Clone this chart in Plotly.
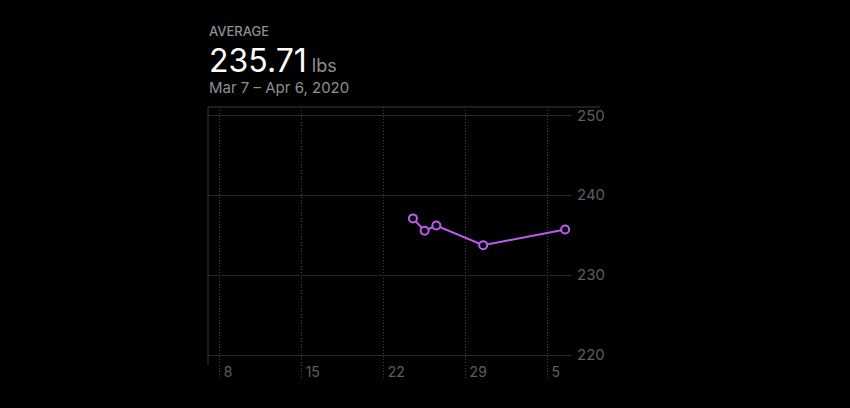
import plotly.graph_objects as go

# weight entries (lbs)
dates = ["2020-03-24 12:00", "2020-03-25 12:00", "2020-03-26 12:00",
         "2020-03-30 12:00", "2020-04-06 12:00"]
weights = [237.1, 235.55, 236.2, 233.75, 235.7]

tick_dates = ["2020-03-08", "2020-03-15", "2020-03-22", "2020-03-29", "2020-04-05"]
tick_text = ["8", "15", "22", "29", "5"]
y_ticks = [220, 230, 240, 250]

purple = "#bf5af2"
grey = "#8e8e93"

fig = go.Figure()
fig.add_trace(go.Scatter(
    x=dates, y=weights, mode="lines+markers",
    line=dict(color=purple, width=2),
    marker=dict(symbol="circle", size=8, color="black",
                line=dict(color=purple, width=2)),
    hoverinfo="skip",
))

fig.update_layout(
    width=850, height=408,
    margin=dict(l=208, r=279, t=107, b=28),
    paper_bgcolor="black", plot_bgcolor="black",
    showlegend=False,
    font=dict(family="Inter, Roboto, sans-serif", color=grey),
    xaxis=dict(
        type="date", range=["2020-03-07", "2020-04-07"],
        tickvals=tick_dates, ticktext=tick_text,
        showgrid=True, gridcolor="#444446", griddash="1px,2px", gridwidth=1,
        ticks="", showline=False, zeroline=False,
        ticklabelposition="inside right",
        ticklabelstandoff=-6, ticklabelshift=4,
        tickfont=dict(size=14, color="#5e5e62"),
    ),
    yaxis=dict(
        side="right", range=[216.875, 251.04],
        tickvals=y_ticks,
        showgrid=True, gridcolor="#262628", gridwidth=1,
        ticks="", showline=False, zeroline=False,
        ticklabelstandoff=5,
        tickfont=dict(size=15, color="#5e5e62"),
    ),
    shapes=[
        dict(type="line", xref="paper", yref="paper", x0=0, x1=1.08, y0=1, y1=1,
             line=dict(color="#3a3a3c", width=1)),
        dict(type="line", xref="paper", yref="paper", x0=0, x1=0, y0=1, y1=0.055,
             line=dict(color="#3a3a3c", width=1)),
    ],
    annotations=[
        dict(text="AVERAGE", xref="paper", yref="paper", x=0, y=1.243,
             xanchor="left", yanchor="bottom", showarrow=False, xshift=-1,
             font=dict(size=13, color=grey, weight=500)),
        dict(text="235.71<span style='font-size:18px;color:#8e8e93'> lbs</span>",
             xref="paper", yref="paper", x=0, y=1.092,
             xanchor="left", yanchor="bottom", showarrow=False, xshift=-1,
             font=dict(size=32, color="white")),
        dict(text="Mar 7 – Apr 6, 2020", xref="paper", yref="paper", x=0, y=1.031,
             xanchor="left", yanchor="bottom", showarrow=False, xshift=-1,
             font=dict(size=15, color=grey)),
    ],
)

fig.write_html(
    "out.html",
    config={"displayModeBar": False},
    post_script="document.body.style.margin='0';document.body.style.background='black';",
)
